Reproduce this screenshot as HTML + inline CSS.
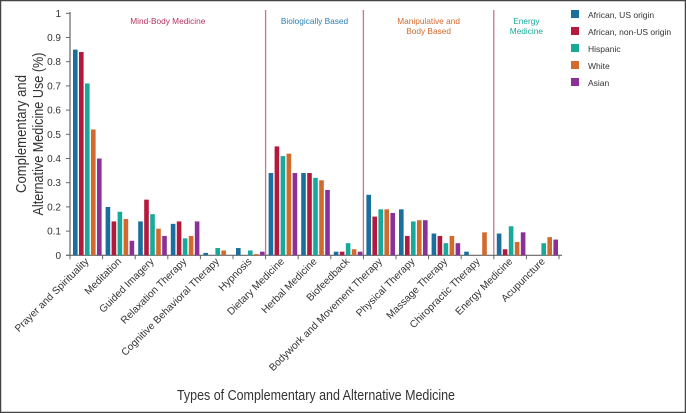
<!DOCTYPE html>
<html><head><meta charset="utf-8"><style>
html,body{margin:0;padding:0;background:#fff}
svg{display:block;font-family:"Liberation Sans",sans-serif}
</style></head><body>
<svg width="686" height="413" viewBox="0 0 686 413">
<rect x="0.5" y="0.5" width="685" height="412" fill="#fff" stroke="#444" stroke-width="1.5"/>
<g id="plot"></g>
</svg>
<script>
const categories=["Prayer and Spirituality","Meditation","Guided Imagery","Relaxation Therapy","Cognitive Behavioral Therapy","Hypnosis","Dietary Medicine","Herbal Medicine","Biofeedback","Bodywork and Movement Therapy","Physical Therapy","Massage Therapy","Chiropractic Therapy","Energy Medicine","Acupuncture"];
const seriesNames=["African, US origin","African, non-US origin","Hispanic","White","Asian"];
const africanUS=[0.85,0.20,0.14,0.13,0.01,0.03,0.34,0.34,0.015,0.25,0.19,0.09,0.015,0.09,0];
const africanNonUS=[0.84,0.14,0.23,0.14,0,0,0.45,0.34,0.015,0.16,0.08,0.08,0,0.025,0];
const hispanic=[0.71,0.18,0.17,0.07,0.03,0.02,0.41,0.32,0.05,0.19,0.14,0.05,0,0.12,0.05];
const white=[0.52,0.15,0.11,0.08,0.02,0.005,0.42,0.31,0.025,0.19,0.145,0.08,0.095,0.055,0.075];
const asian=[0.40,0.06,0.08,0.14,0,0.015,0.34,0.27,0.015,0.175,0.145,0.05,0,0.095,0.065];
const yTicks=[0,0.1,0.2,0.3,0.4,0.5,0.6,0.7,0.8,0.9,1];
const groups=[{name:"Mind-Body Medicine",start:0,end:6,color:"#b5345c"},{name:"Biologically Based",start:6,end:9,color:"#2a7fb0"},{name:"Manipulative and|Body Based",start:9,end:13,color:"#d2692d"},{name:"Energy|Medicine",start:13,end:15,color:"#17a99a"}];
const colors=["#1a6f9e","#b3193c","#17a99a","#d2692d","#8c3099"];
const allSeries=[africanUS,africanNonUS,hispanic,white,asian];

const NS="http://www.w3.org/2000/svg";
const g=document.getElementById('plot');
const X0=70,SLOT=32.6,Y0=255.3,YS=242;
const xs=i=>X0+i*SLOT;
const ys=v=>Y0-v*YS;
function el(t,a,p){const e=document.createElementNS(NS,t);for(const k in a)e.setAttribute(k,a[k]);(p||g).appendChild(e);return e;}

groups.forEach((gr,gi)=>{
  if(gi>0){const d=el('line',{x1:xs(gr.start),x2:xs(gr.start),y1:10,y2:Y0,stroke:"#c8768e","stroke-width":1.3});
  
  }
  const cx=(xs(gr.start)+xs(gr.end))/2;
  gr.name.split('|').forEach((ln,li)=>{
    const t=el('text',{x:cx,y:24+li*10,"text-anchor":"middle","font-size":8.3,fill:gr.color});
    t.textContent=ln;
    
    
  });
});
const ya=el('line',{x1:X0,x2:X0,y1:12,y2:Y0,stroke:"#666","stroke-width":1.2});


const xa=el('line',{x1:X0-4,x2:xs(15)+3,y1:Y0,y2:Y0,stroke:"#666","stroke-width":1.2});


yTicks.forEach(v=>{
  el('line',{x1:X0-4,x2:X0,y1:ys(v),y2:ys(v),stroke:"#666"});
  const t=el('text',{x:X0-9,y:ys(v)+3.5,"text-anchor":"end","font-size":10,fill:"#333"});
  t.textContent=String(v);
  
  
});
for(let i=0;i<=15;i++) el('line',{x1:xs(i),x2:xs(i),y1:Y0,y2:Y0+4,stroke:"#666"});
categories.forEach((c,i)=>{
  allSeries.forEach((s,k)=>{
    const v=s[i];
    const r=el('rect',{x:xs(i)+3+k*6,y:ys(v),width:4.6,height:Y0-ys(v),fill:colors[k]});
    
    
  });
  const lx=xs(i)+SLOT/2+3,ly=262;
  const t=el('text',{x:lx,y:ly,"text-anchor":"end","font-size":10.2,fill:"#333",transform:`rotate(-45 ${lx} ${ly})`});
  t.textContent=c;
  
  
});
seriesNames.forEach((n,k)=>{
  const r=el('rect',{x:571,y:10+k*17,width:8,height:8,fill:colors[k]});
  
  
  const t=el('text',{x:588,y:18+k*17,"font-size":8.5,fill:"#333"});
  t.textContent=n;
  
  
});
const yt=el('text',{transform:"translate(26,134) rotate(-90)","text-anchor":"middle","font-size":14.8,fill:"#333"});


const t1=el('tspan',{x:0,y:0,textLength:118,lengthAdjust:"spacingAndGlyphs"},yt);t1.textContent="Complementary and";
const t2=el('tspan',{x:0,y:17,textLength:163,lengthAdjust:"spacingAndGlyphs"},yt);t2.textContent="Alternative Medicine Use (%)";
const xt=el('text',{x:316,y:400,"text-anchor":"middle","font-size":14.5,fill:"#333",textLength:278,lengthAdjust:"spacingAndGlyphs"});
xt.textContent="Types of Complementary and Alternative Medicine";


</script>
</body></html>
